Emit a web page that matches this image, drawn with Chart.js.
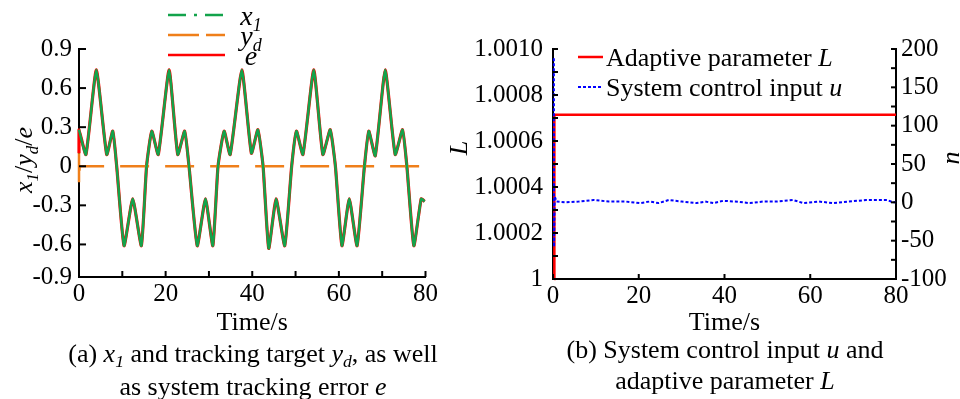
<!DOCTYPE html>
<html>
<head>
<meta charset="utf-8">
<script src="https://cdn.jsdelivr.net/npm/chart.js@4.4.1/dist/chart.umd.min.js"></script>
<style>
  html, body { margin: 0; padding: 0; background: #fff; }
  #wrap { position: relative; width: 960px; height: 399px; overflow: hidden;
          font-family: "Liberation Serif", "Times New Roman", serif; color: #000; }
  .panel { position: absolute; top: 0; }
  .caption { position: absolute; text-align: center; font-size: 26px; line-height: 33px; white-space: nowrap; }
  .caption sub { font-size: 68%; line-height: 0; vertical-align: -0.3em; }
</style>
</head>
<body>
<div id="wrap">
  <div class="panel" style="left:0"><canvas id="left" width="440" height="399"></canvas></div>
  <div class="panel" style="left:440px"><canvas id="right" width="520" height="399"></canvas></div>
  <div class="caption" style="left:33px;width:440px;top:337px">(a) <i>x<sub>1</sub></i> and tracking target <i>y<sub>d</sub></i>, as well<br>as system tracking error <i>e</i></div>
  <div class="caption" style="left:505px;width:440px;top:334px;line-height:31px">(b) System control input <i>u</i> and<br>adaptive parameter <i>L</i></div>
</div>
<script>
const SERIF = '"Liberation Serif", "Times New Roman", serif';
const GREEN = '#13a34b';
const ORANGE = '#ef7f1a';
const RED = '#ff0000';
const BLUE = '#0000ff';

// (a) state x1 over time, vertices
const x1Time = [0, 1.6, 4.0, 6.4, 7.8, 8.7, 10.4, 12.4, 14.4, 15.6,
                16.8, 18.3, 20.8, 22.8, 24.4, 25.4, 27.3, 29.2, 30.9, 32.1,
                33.5, 34.9, 37.6, 39.8, 41.3, 42.5, 43.8, 45.5, 47.5, 49.1,
                50.2, 51.7, 54.2, 56.3, 58.0, 59.2, 60.7, 62.4, 64.2, 65.9,
                66.9, 68.4, 70.7, 73.0, 74.7, 75.7, 77.3, 79.0, 79.8];
const x1Vals = [0.28, 0.09, 0.74, 0.09, 0.27, 0, -0.61, -0.25, -0.61, 0,
                0.27, 0.09, 0.74, 0.09, 0.27, 0, -0.61, -0.25, -0.61, 0,
                0.27, 0.09, 0.74, 0.10, 0.28, 0, -0.63, -0.25, -0.61, 0,
                0.27, 0.09, 0.74, 0.09, 0.28, 0, -0.61, -0.25, -0.61, 0,
                0.27, 0.08, 0.74, 0.09, 0.28, 0, -0.61, -0.25, -0.27];
// red trace follows x1 after starting a little lower
const redStart = 0.10;
// orange dashed trace: short initial transient then zero
const dashTime = [0, 0, 0.15, 80];
const dashVals = [0.10, -0.14, 0, 0];

const leftXTicks = [0, 20, 40, 60, 80];
const leftXMarks = [0, 10, 20, 30, 40, 50, 60, 70, 80];
const leftYTicks = [-0.85, -0.6, -0.3, 0, 0.3, 0.6, 0.9];
const leftYLabels = ['-0.9', '-0.6', '-0.3', '0', '0.3', '0.6', '0.9'];

// (b) adaptive parameter L and control input u
const lTime = [0.3, 0.32, 80];
const lVals = [1, 1.000714, 1.000714];
const uTime = [0.2, 0.25, 0.4, 0.8, 3, 6, 9.5, 13, 17, 20.3, 22.5, 24.6, 27, 30, 33.5, 35.5,
               37.4, 39.7, 42.5, 45.9, 49, 52, 56, 58.4, 62, 65.4, 69, 73, 76, 78, 79.3, 80];
const uVals = [188, -58, 8, 1, 0, 1, 3, 1, 1, -1, 1, -1, 3, 1, -1, 1,
               -1, 2, 1, -1, 1, 1, 3, -1, 1, -1, 1, 3, 3, 3, 0, 0];

const rightXTicks = [0, 20, 40, 60, 80];
const rightLTicks = [1, 1.0002, 1.0004, 1.0006, 1.0008, 1.001];
const rightLLabels = ['1', '1.0002', '1.0004', '1.0006', '1.0008', '1.0010'];
const rightLMarks = [1, 1.0001, 1.0002, 1.0003, 1.0004, 1.0005, 1.0006, 1.0007, 1.0008, 1.0009, 1.001];
const rightUMarks = [-100, -75, -50, -25, 0, 25, 50, 75, 100, 125, 150, 175, 200];

function pts(xs, ys) {
  return xs.map((x, i) => ({ x: x, y: ys[i] }));
}

// text with italic / subscript pieces: [text, style], style 'i' italic, 's' subscript
function pieceFont(style, size) {
  const s = style.includes('s') ? Math.round(size * 0.65) : size;
  return (style.includes('i') ? 'italic ' : '') + s + 'px ' + SERIF;
}
function richWidth(ctx, parts, size) {
  let w = 0;
  parts.forEach(p => {
    ctx.font = pieceFont(p[1], size);
    w += ctx.measureText(p[0]).width;
  });
  return w;
}
function drawRich(ctx, parts, x, y, size, align) {
  const w = richWidth(ctx, parts, size);
  let cx = align === 'left' ? x : x - w / 2;
  ctx.textBaseline = 'alphabetic';
  ctx.textAlign = 'left';
  parts.forEach(p => {
    ctx.font = pieceFont(p[1], size);
    ctx.fillText(p[0], cx, y + (p[1].includes('s') ? size * 0.22 : 0));
    cx += ctx.measureText(p[0]).width;
  });
}

// inward tick marks, axis titles and the line legend
const paperAxes = {
  id: 'paperAxes',
  afterDraw(chart, args, opts) {
    const ctx = chart.ctx;
    const area = chart.chartArea;
    ctx.save();
    ctx.strokeStyle = '#000';
    ctx.lineWidth = 2;
    (opts.marks || []).forEach(m => {
      const scale = chart.scales[m.axis];
      m.values.forEach(v => {
        const p = scale.getPixelForValue(v);
        ctx.beginPath();
        if (scale.isHorizontal()) {
          ctx.moveTo(p, area.bottom);
          ctx.lineTo(p, area.bottom - m.len);
        } else if (scale.position === 'left') {
          ctx.moveTo(area.left, p);
          ctx.lineTo(area.left + m.len, p);
        } else {
          ctx.moveTo(area.right, p);
          ctx.lineTo(area.right - m.len, p);
        }
        ctx.stroke();
      });
    });

    ctx.fillStyle = '#000';
    (opts.titles || []).forEach(t => {
      const x = t.x === 'mid' ? (area.left + area.right) / 2 : t.x;
      const y = t.y === 'mid' ? (area.top + area.bottom) / 2 + (t.dy || 0) : t.y;
      ctx.save();
      ctx.translate(x, y);
      ctx.rotate((t.rot || 0) * Math.PI / 180);
      drawRich(ctx, t.parts, 0, 0, t.size, 'center');
      ctx.restore();
    });

    const lg = opts.legend;
    if (lg) {
      lg.rows.forEach(r => {
        ctx.save();
        ctx.strokeStyle = r.color;
        ctx.lineWidth = r.width;
        ctx.setLineDash(r.dash || []);
        ctx.beginPath();
        ctx.moveTo(lg.x0, r.y);
        ctx.lineTo(lg.x1, r.y);
        ctx.stroke();
        ctx.restore();
        drawRich(ctx, r.parts, lg.textX, r.y + lg.baseOff, lg.size, lg.align);
      });
    }
    ctx.restore();
  }
};

function axisFont() {
  return { family: SERIF, size: 25 };
}
function plainAxis(extra) {
  return Object.assign({
    type: 'linear',
    grid: { display: false, drawTicks: false },
    border: { display: true, color: '#000', width: 2 },
  }, extra);
}

new Chart(document.getElementById('left'), {
  type: 'line',
  data: {
    datasets: [
      { label: 'x1', data: pts(x1Time, x1Vals), borderColor: GREEN, borderWidth: 2.5,
        tension: 0.15, pointRadius: 0, clip: 4 },
      { label: 'yd', data: pts(dashTime, dashVals), borderColor: ORANGE, borderWidth: 2.5,
        borderDash: [29, 16], pointRadius: 0, clip: 4 },
      { label: 'e', data: [{ x: 0, y: redStart }].concat(pts(x1Time, x1Vals)), borderColor: RED,
        borderWidth: 3.2, tension: 0.15, pointRadius: 0, clip: 4 },
    ]
  },
  options: {
    responsive: false,
    animation: false,
    events: [],
    layout: { padding: { top: 49, right: 13, bottom: 63, left: 0 } },
    scales: {
      x: plainAxis({
        position: 'bottom', min: 0, max: 80,
        afterBuildTicks: s => { s.ticks = leftXTicks.map(v => ({ value: v })); },
        ticks: { font: axisFont(), color: '#000', padding: 2, maxRotation: 0, autoSkip: false },
        afterFit: s => { s.height = 59; },
      }),
      y: plainAxis({
        position: 'left', min: -0.85, max: 0.9,
        afterBuildTicks: s => { s.ticks = leftYTicks.map(v => ({ value: v })); },
        ticks: { font: axisFont(), color: '#000', padding: 7, autoSkip: false,
                 callback: (v, i) => leftYLabels[i] },
        afterFit: s => { s.width = 79; },
      }),
    },
    plugins: {
      legend: { display: false },
      tooltip: { enabled: false },
      paperAxes: {
        marks: [
          { axis: 'x', values: leftXMarks, len: 6 },
          { axis: 'y', values: leftYTicks, len: 7 },
        ],
        titles: [
          { parts: [['Time/s', '']], x: 'mid', y: 330, size: 26 },
          { parts: [['x', 'i'], ['1', 'is'], ['/', ''], ['y', 'i'], ['d', 'is'], ['/', ''], ['e', 'i']],
            x: 32, y: 'mid', dy: -3, rot: -90, size: 26 },
        ],
        legend: {
          x0: 168, x1: 225, textX: 251, align: 'center', baseOff: 10, size: 28,
          rows: [
            { y: 15, color: GREEN, width: 2.5, dash: [18, 8, 3, 8], parts: [['x', 'i'], ['1', 'is']] },
            { y: 35, color: ORANGE, width: 2.5, dash: [31, 7], parts: [['y', 'i'], ['d', 'is']] },
            { y: 55, color: RED, width: 2.5, parts: [['e', 'i']] },
          ]
        }
      }
    }
  },
  plugins: [paperAxes]
});

new Chart(document.getElementById('right'), {
  type: 'line',
  data: {
    datasets: [
      { label: 'u', data: pts(uTime, uVals), yAxisID: 'y2', borderColor: BLUE, borderWidth: 2,
        borderDash: [3, 2], pointRadius: 0, clip: 4 },
      { label: 'L', data: pts(lTime, lVals), yAxisID: 'y', borderColor: RED, borderWidth: 2.5,
        pointRadius: 0, clip: 4 },
    ]
  },
  options: {
    responsive: false,
    animation: false,
    events: [],
    layout: { padding: { top: 49, right: 0, bottom: 63, left: 0 } },
    scales: {
      x: plainAxis({
        position: 'bottom', min: 0, max: 80,
        afterBuildTicks: s => { s.ticks = rightXTicks.map(v => ({ value: v })); },
        ticks: { font: axisFont(), color: '#000', padding: 2, maxRotation: 0, autoSkip: false },
        afterFit: s => { s.height = 57; },
      }),
      y: plainAxis({
        position: 'left', min: 1, max: 1.001,
        afterBuildTicks: s => { s.ticks = rightLTicks.map(v => ({ value: v })); },
        ticks: { font: axisFont(), color: '#000', padding: 10, autoSkip: false,
                 callback: (v, i) => rightLLabels[i] },
        afterFit: s => { s.width = 113; },
      }),
      y2: plainAxis({
        position: 'right', min: -100, max: 200,
        ticks: { font: axisFont(), color: '#000', padding: 5, stepSize: 50, autoSkip: false },
        afterFit: s => { s.width = 64; },
      }),
    },
    plugins: {
      legend: { display: false },
      tooltip: { enabled: false },
      paperAxes: {
        marks: [
          { axis: 'x', values: rightXTicks, len: 5 },
          { axis: 'y', values: rightLMarks, len: 5 },
          { axis: 'y2', values: rightUMarks, len: 5 },
        ],
        titles: [
          { parts: [['Time/s', '']], x: 'mid', y: 330, size: 26 },
          { parts: [['L', 'i']], x: 27, y: 148, rot: -90, size: 26 },
          { parts: [['u', 'i']], x: 507, y: 158, rot: 90, size: 26 },
        ],
        legend: {
          x0: 138, x1: 163, textX: 166, align: 'left', baseOff: 9, size: 26,
          rows: [
            { y: 57, color: RED, width: 2.5, parts: [['Adaptive parameter ', ''], ['L', 'i']] },
            { y: 87, color: BLUE, width: 2, dash: [3, 2], parts: [['System control input ', ''], ['u', 'i']] },
          ]
        }
      }
    }
  },
  plugins: [paperAxes]
});
</script>
</body>
</html>
